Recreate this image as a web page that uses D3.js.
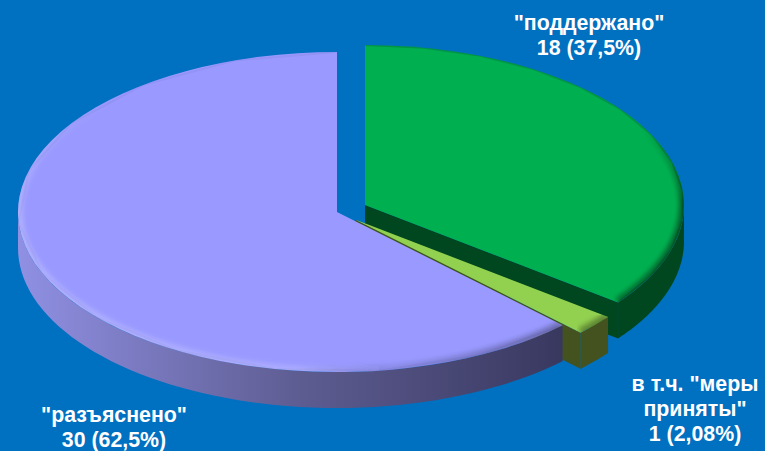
<!DOCTYPE html>
<html><head><meta charset="utf-8">
<script src="https://cdn.jsdelivr.net/npm/d3@7"></script>
<style>html,body{margin:0;padding:0;background:#0070c0;overflow:hidden}svg{display:block}</style>
</head><body><script>
const sliceNames = ["supported", "measures", "explained"];
const sliceValues = [17, 1, 30];
const topColors = ["#00b050", "#92d050", "#9999ff"];
const wallLeftColors = ["#004b22", "#47551f", "#9090e4"];
const wallMidColors = ["#004b22", "#44521f", "#5f5e94"];
const wallRightColors = ["#00461f", "#44521f", "#38385f"];
const sliceCentres = [[365, 205], [355, 219.5], [337, 212]];
const labelLines = [
  ['"поддержано"', '18 (37,5%)'],
  ['в т.ч. "меры', 'приняты"', '1 (2,08%)'],
  ['"разъяснено"', '30 (62,5%)']
];
const labelAnchors = [[589, 30], [695, 391], [114, 422]];

const W = 765, H = 451, rx = 319, ry = 160, depth = 36, lineStep = 25;
const svg = d3.select("body").append("svg").attr("width", W).attr("height", H);
svg.append("rect").attr("width", W).attr("height", H).attr("fill", "#0070c0");
const defs = svg.append("defs");
defs.append("filter").attr("id", "soft").attr("x", "-10%").attr("y", "-10%").attr("width", "120%").attr("height", "120%")
  .append("feGaussianBlur").attr("stdDeviation", 2.4);

const arcs = d3.pie().sort(null).value(d => d)(sliceValues);
const px = (c, a) => c[0] + rx * Math.sin(a);
const py = (c, a) => c[1] - ry * Math.cos(a);
const line = d3.line();
const deg = Math.PI / 180;

const rimGrad = defs.append("linearGradient").attr("id", "rim").attr("gradientUnits", "userSpaceOnUse")
  .attr("x1", 18).attr("x2", 684).attr("y1", 0).attr("y2", 0);
[[0, "#ffffff", .22], [.42, "#ffffff", .18], [.56, "#000000", .10], [1, "#000000", .45]].forEach(s =>
  rimGrad.append("stop").attr("offset", s[0]).attr("stop-color", s[1]).attr("stop-opacity", s[2]));

function wallPath(c, a0, a1) {
  const as = d3.range(0, 61).map(i => a0 + (a1 - a0) * i / 60);
  const top = as.map(a => [px(c, a), py(c, a)]);
  const bot = as.slice().reverse().map(a => [px(c, a), py(c, a) + depth]);
  return line(top.concat(bot)) + "Z";
}
function cutPath(c, a) {
  return line([[c[0], c[1]], [px(c, a), py(c, a)], [px(c, a), py(c, a) + depth], [c[0], c[1] + depth]]) + "Z";
}
const topArc = d3.arc().innerRadius(0).outerRadius(rx);
const rimLine = (c, a0, a1) => line(d3.range(0, 13).map(i => {
  const a = a0 + (a1 - a0) * i / 12; return [px(c, a), py(c, a)];
}));
const rimFade = a => Math.max(0, Math.min(1, (a / deg - 60) / 30, (315 - a / deg) / 45));

arcs.forEach((d, i) => {
  const c = sliceCentres[i];
  const g = svg.append("g");
  const isBig = d.endAngle > Math.PI;
  const grad = defs.append("linearGradient").attr("id", "wall" + i).attr("gradientUnits", "userSpaceOnUse")
    .attr("x1", px(c, 3 * Math.PI / 2)).attr("x2", px(c, d.startAngle)).attr("y1", 0).attr("y2", 0);
  grad.append("stop").attr("offset", 0).attr("stop-color", wallLeftColors[i]);
  grad.append("stop").attr("offset", .5).attr("stop-color", wallMidColors[i]);
  grad.append("stop").attr("offset", 1).attr("stop-color", wallRightColors[i]);

  if (!isBig) g.append("path").attr("d", cutPath(c, d.endAngle)).attr("fill", wallRightColors[i]);
  const w0 = Math.max(d.startAngle, Math.PI / 2), w1 = Math.min(d.endAngle, 3 * Math.PI / 2);
  g.append("path").attr("d", wallPath(c, w0, w1)).attr("fill", isBig ? `url(#wall${i})` : wallRightColors[i]);

  const clipId = "clip" + i;
  const pathD = topArc({ startAngle: d.startAngle, endAngle: d.endAngle });
  const tf = `translate(${c[0]},${c[1]}) scale(1,${ry / rx})`;
  defs.append("clipPath").attr("id", clipId).append("path").attr("d", pathD).attr("transform", tf);
  g.append("path").attr("d", pathD).attr("transform", tf).attr("fill", topColors[i]);
  const clipped = g.append("g").attr("clip-path", `url(#${clipId})`);
  clipped.append("path").attr("d", rimLine(c, d.startAngle, d.endAngle))
    .attr("fill", "none").attr("stroke", "#000").attr("stroke-opacity", i === 0 ? .15 : .04).attr("stroke-width", 2);
  const r0 = Math.max(d.startAngle, 60 * deg), r1 = Math.min(d.endAngle, 315 * deg);
  const n = Math.ceil((r1 - r0) / (3 * deg));
  const band = clipped.append("g").attr("filter", "url(#soft)");
  d3.range(n).forEach(k => {
    const a0 = r0 + (r1 - r0) * k / n, a1 = r0 + (r1 - r0) * (k + 1) / n;
    band.append("path").attr("d", rimLine(c, a0, a1))
      .attr("fill", "none").attr("stroke", "url(#rim)").attr("stroke-width", 10)
      .attr("stroke-opacity", rimFade((a0 + a1) / 2));
  });
});

labelLines.forEach((lines, i) => {
  const t = svg.append("text").attr("text-anchor", "middle").attr("fill", "#fff")
    .attr("font-family", "'Liberation Sans', Arial, sans-serif").attr("font-weight", "bold").attr("font-size", 21.33);
  lines.forEach((s, k) => t.append("tspan").attr("x", labelAnchors[i][0]).attr("y", labelAnchors[i][1] + k * lineStep).text(s));
});
</script></body></html>
